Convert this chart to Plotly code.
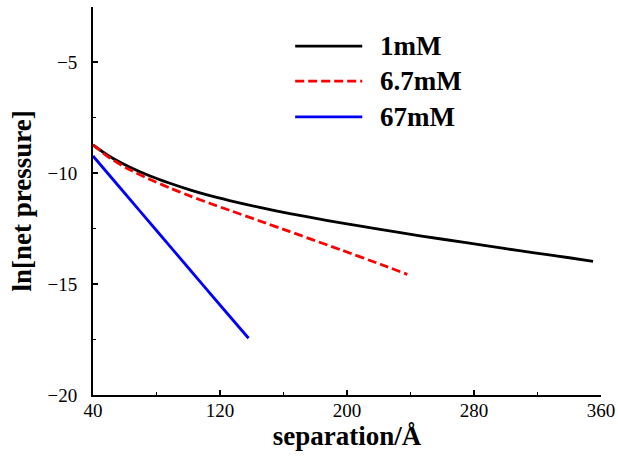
import plotly.graph_objects as go

# ---- data ----
x_1mM = [40, 50, 62, 76, 88, 101, 113, 126, 145, 164, 187, 200, 217, 246, 275, 300, 317, 340, 355]
y_1mM = [-8.72, -9.22, -9.68, -10.12, -10.44, -10.75, -11.00, -11.23, -11.54, -11.82, -12.12,
         -12.28, -12.48, -12.82, -13.13, -13.40, -13.58, -13.81, -13.97]

x_6_7mM = [40, 50, 62, 76, 88, 101, 113, 126, 145, 164, 196, 221, 238]
y_6_7mM = [-8.72, -9.28, -9.80, -10.28, -10.65, -11.02, -11.34, -11.67, -12.15, -12.63,
           -13.45, -14.10, -14.56]

x_67mM = [40, 60, 80, 100, 120, 138]
y_67mM = [-9.22, -10.90, -12.58, -14.26, -15.94, -17.44]

series_names = ["1mM", "6.7mM", "67mM"]
x_ticks = [40, 120, 200, 280, 360]
y_ticks = [-20, -15, -10, -5]

FONT = "Liberation Serif, Times New Roman, Times, serif"
colors = ["black", "red", "blue"]
dashes = ["solid", "9px,4px", "solid"]

fig = go.Figure()
for xs, ys, name, c, d in zip([x_1mM, x_6_7mM, x_67mM], [y_1mM, y_6_7mM, y_67mM],
                              series_names, colors, dashes):
    fig.add_trace(go.Scatter(x=xs, y=ys, mode="lines", name=name,
                             line=dict(color=c, width=2.8, dash=d, shape="spline", smoothing=0.5),
                             showlegend=False))

# custom legend (long line samples as in the reference)
leg_y = [0.899, 0.809, 0.717]
for name, c, d, yy in zip(series_names, colors, dashes, leg_y):
    fig.add_shape(type="line", xref="paper", yref="paper", x0=0.398, x1=0.530, y0=yy, y1=yy,
                  line=dict(color=c, width=2.8, dash=d))
    fig.add_annotation(xref="paper", yref="paper", x=0.561, y=yy, text="<b>%s</b>" % name,
                       showarrow=False, xanchor="left", yanchor="middle",
                       font=dict(family=FONT, size=27, color="black"))

fig.update_layout(
    width=618, height=457,
    margin=dict(l=93, r=17, t=7, b=62),
    paper_bgcolor="white", plot_bgcolor="white",
    font=dict(family=FONT, color="black"),
)
fig.update_xaxes(
    range=[40, 360], tickvals=x_ticks, ticktext=[str(v) for v in x_ticks],
    automargin=False,
    showline=True, linecolor="black", linewidth=2, showgrid=False, zeroline=False,
    ticks="inside", ticklen=5, tickwidth=1.5, tickcolor="black",
    minor=dict(dtick=40, tick0=40, ticks="inside", ticklen=3, tickwidth=1.2, tickcolor="black", showgrid=False),
    tickfont=dict(family=FONT, size=19, color="black"),
    ticklabelstandoff=-3,
    title=dict(text="<b>separation/Å</b>", font=dict(family=FONT, size=27, color="black"), standoff=0),
)
fig.update_yaxes(
    range=[-20, -2.5], tickvals=y_ticks, ticktext=["\u2212%d" % abs(v) for v in y_ticks],
    automargin=False,
    showline=True, linecolor="black", linewidth=2, showgrid=False, zeroline=False,
    ticks="inside", ticklen=5, tickwidth=1.5, tickcolor="black",
    minor=dict(dtick=2.5, tick0=-20, ticks="inside", ticklen=3, tickwidth=1.2, tickcolor="black", showgrid=False),
    tickfont=dict(family=FONT, size=19, color="black"),
    ticklabelstandoff=10,
    title=dict(text="<b>ln[net pressure]</b>", font=dict(family=FONT, size=27, color="black"), standoff=8),
)

fig.write_html("out.html", config={"displayModeBar": False},
               post_script="document.body.style.margin='0';document.body.style.padding='0';")
